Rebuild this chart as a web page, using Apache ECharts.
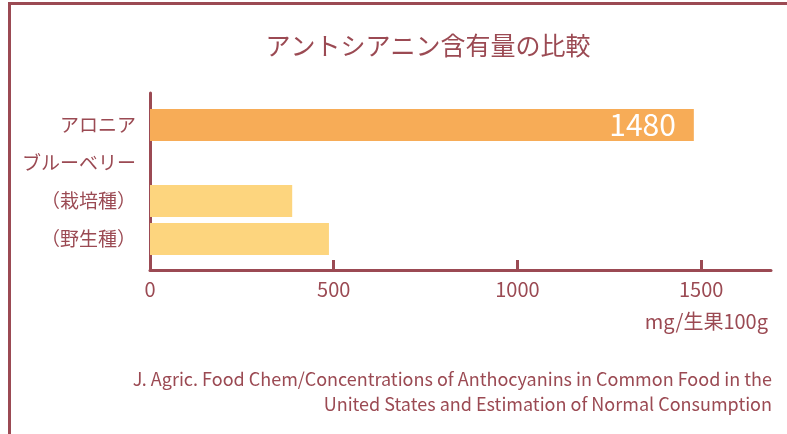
<!DOCTYPE html>
<html>
<head>
<meta charset="utf-8">
<script src="https://cdn.jsdelivr.net/npm/echarts@6/dist/echarts.min.js"></script>
<style>
    html, body { margin: 0; padding: 0; background: #fff; }
    #chart { width: 787px; height: 434px; }
</style>
</head>
<body>
<div id="chart"></div>
<script>
(function () {

    'use strict';

    // 品目（上から順）
    var categories = ['アロニア', 'ブルーベリー', '（栽培種）', '（野生種）'];
    // アントシアニン含有量 mg/生果100g
    var values = [1480, null, 387, 487];
    var barColors = ['#f7ac57', '#fdd57e', '#fdd57e', '#fdd57e'];
    var xTicks = [0, 500, 1000, 1500];
    var xMax = 1690;

    var titleText = 'アントシアニン含有量の比較';
    var unitText = 'mg/生果100g';
    var sourceLines = [
        'J. Agric. Food Chem/Concentrations of Anthocyanins in Common Food in the',
        'United States and Estimation of Normal Consumption'
    ];

    var red = '#9b4a53',
        font = '"Noto Sans CJK JP", "Noto Sans", sans-serif';

    var myChart = echarts.init(document.getElementById('chart'));

    var option = {
        backgroundColor: '#fff',
        textStyle: { fontFamily: font },
        title: {
            text: titleText,
            left: 423,
            top: 28,
            textAlign: 'center',
            textStyle: { color: red, fontSize: 25, fontWeight: 'normal', fontFamily: font }
        },
        grid: [
            // 棒を描く領域
            { left: 150, right: 16, top: 106, bottom: 176 },
            // 軸線を描く領域
            { left: 150, right: 16, top: 93, bottom: 164 }
        ],
        xAxis: [{
            gridIndex: 0,
            type: 'value',
            min: 0,
            max: xMax,
            show: false
        }, {
            gridIndex: 1,
            type: 'value',
            min: 0,
            max: xMax,
            axisLine: { show: true, lineStyle: { color: red, width: 3 } },
            axisTick: {
                show: true,
                inside: true,
                length: 10,
                customValues: xTicks,
                lineStyle: { color: red, width: 3 }
            },
            axisLabel: {
                customValues: xTicks,
                formatter: function (v) { return String(v); },
                color: red,
                fontSize: 20,
                margin: 9,
                fontFamily: font
            },
            splitLine: { show: false }
        }],
        yAxis: [{
            gridIndex: 0,
            type: 'category',
            inverse: true,
            data: categories,
            axisLine: { show: false },
            axisTick: { show: false },
            axisLabel: { color: red, fontSize: 19, margin: 14, fontFamily: font }
        }, {
            gridIndex: 1,
            type: 'value',
            min: 0,
            max: 1,
            axisLine: { show: true, lineStyle: { color: red, width: 3 } },
            axisTick: { show: false },
            axisLabel: { show: false },
            splitLine: { show: false }
        }],
        series: [{
            type: 'bar',
            xAxisIndex: 0,
            yAxisIndex: 0,
            barWidth: 32,
            data: values.map(function (v, i) {
                return {
                    value: v,
                    itemStyle: { color: barColors[i] },
                    label: { show: i === 0 }
                };
            }),
            label: {
                position: 'insideRight',
                distance: 18,
                color: '#fff',
                fontSize: 30,
                fontFamily: font
            },
            silent: true
        }],
        graphic: [{
            // 外枠（右と下は画面外）
            type: 'rect',
            shape: { x: 9.5, y: 3.5, width: 900, height: 600 },
            style: { fill: null, stroke: red, lineWidth: 3 },
            silent: true
        }, {
            type: 'text',
            right: 19,
            top: 311,
            style: { text: unitText, fill: red, font: '20px ' + font }
        }, {
            type: 'text',
            right: 15,
            top: 370,
            style: { text: sourceLines[0], fill: red, font: '18px ' + font }
        }, {
            type: 'text',
            right: 15,
            top: 395,
            style: { text: sourceLines[1], fill: red, font: '18px ' + font }
        }]
    };

    myChart.setOption(option);
})();
</script>
</body>
</html>
